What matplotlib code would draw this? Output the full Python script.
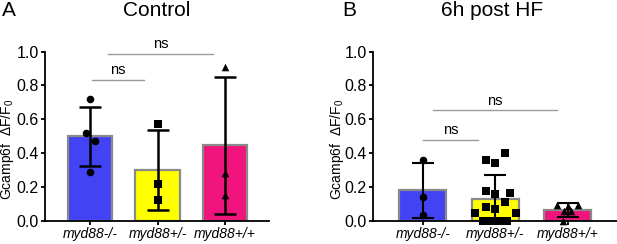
import matplotlib
matplotlib.use('Agg')
import matplotlib.pyplot as plt
import numpy as np

plt.rcParams['font.family'] = ['Liberation Sans', 'DejaVu Sans']
plt.rcParams['mathtext.fontset'] = 'custom'
plt.rcParams['mathtext.rm'] = 'Liberation Sans'

# Dati
genotypes = ['myd88-/-', 'myd88+/-', 'myd88+/+']
bar_colors = ['#4343F6', '#FFFF00', '#F0147C']
markers = ['o', 's', '^']

ctrl_means = [0.50, 0.30, 0.445]
ctrl_sd = [0.175, 0.235, 0.405]
ctrl_pts = [[0.72, 0.52, 0.47, 0.29],
            [0.57, 0.22, 0.12],
            [0.91, 0.28, 0.15]]
ctrl_jit = [[0, -0.06, 0.065, 0],
            [0, 0, 0],
            [0, 0, 0]]

hf_means = [0.18, 0.128, 0.062]
hf_sd = [0.162, 0.14, 0.04]
hf_pts = [[0.357, 0.14, 0.035],
          [0.40, 0.36, 0.343, 0.178, 0.157, 0.165, 0.112, 0.083, 0.071,
           0.043, 0.043, 0.0, 0.0, 0.0, 0.0],
          [0.093, 0.087, 0.093, 0.06, 0.057, 0.0]]
hf_jit = [[0, 0, 0],
          [0.13, -0.13, 0, -0.13, 0, 0.2, 0.13, -0.13, 0, -0.28, 0.28,
           -0.17, -0.06, 0.05, 0.16],
          [-0.15, 0, 0.14, 0.05, -0.05, -0.07]]

# confronti: (x1, x2, y)
ctrl_ns = [(0.03, 0.79, 0.833), (0.27, 1.82, 0.988)]
hf_ns = [(0.0, 0.76, 0.48), (0.14, 1.85, 0.653)]


def draw_panel(ax, means, sd, pts, jit, ns_lines, xlim, width, err_lw):
    x = np.arange(len(means))
    ax.bar(x, means, width=width, color=bar_colors, edgecolor='#8a8a8a',
           linewidth=1.6, zorder=1)
    ax.errorbar(x, means, yerr=sd, fmt='none', ecolor='black',
                elinewidth=err_lw, capsize=8, capthick=err_lw, zorder=2)
    for i in range(len(means)):
        xs = x[i] + np.array(jit[i])
        ax.scatter(xs, pts[i], marker=markers[i], s=30, color='black',
                   zorder=3, clip_on=False, linewidths=0)
    for x1, x2, y in ns_lines:
        ax.plot([x1, x2], [y, y], color='#9a9a9a', lw=1.0, clip_on=False)
        ax.text((x1 + x2) / 2, y + 0.015, 'ns', ha='center', va='bottom',
                fontsize=10.5, clip_on=False)

    ax.set_xlim(*xlim)
    ax.set_ylim(0, 1.0)
    ticks = np.arange(0, 1.01, 0.2)
    ax.set_yticks(ticks)
    ax.set_yticklabels([f'{v:.1f}' for v in ticks], fontsize=11.5)
    ax.set_xticks(x)
    ax.set_xticklabels(genotypes, fontsize=10, style='italic')
    ax.tick_params(axis='both', length=3, width=1.3, pad=1.5)
    for s in ['top', 'right']:
        ax.spines[s].set_visible(False)
    for s in ['left', 'bottom']:
        ax.spines[s].set_linewidth(1.3)
    ax.set_ylabel('Gcamp6f  ΔF/F$_0$', fontsize=10, va='center')


fig = plt.figure(figsize=(6.17, 2.44), dpi=100)
bottom = (244 - 220.7) / 244
height = 169 / 244

axA = fig.add_axes([45 / 617, bottom, 224 / 617, height])
draw_panel(axA, ctrl_means, ctrl_sd, ctrl_pts, ctrl_jit, ctrl_ns,
           (-0.67, 2.65), 0.66, 1.8)
axA.yaxis.set_label_coords(-37.5 / 224, 0.42)

axB = fig.add_axes([373 / 617, bottom, 244 / 617, height])
draw_panel(axB, hf_means, hf_sd, hf_pts, hf_jit, hf_ns,
           (-0.69, 2.68), 0.65, 1.5)
axB.yaxis.set_label_coords(-36.5 / 244, 0.42)

fig.text(2 / 617, 1 - 10 / 244, 'A', fontsize=15, va='center', ha='left')
fig.text(157 / 617, 1 - 10 / 244, 'Control', fontsize=15, va='center', ha='center')
fig.text(342 / 617, 1 - 10 / 244, 'B', fontsize=15, va='center', ha='left')
fig.text(492 / 617, 1 - 10 / 244, '6h post HF', fontsize=15, va='center', ha='center')

fig.savefig('out.png', dpi=100, facecolor='white')
